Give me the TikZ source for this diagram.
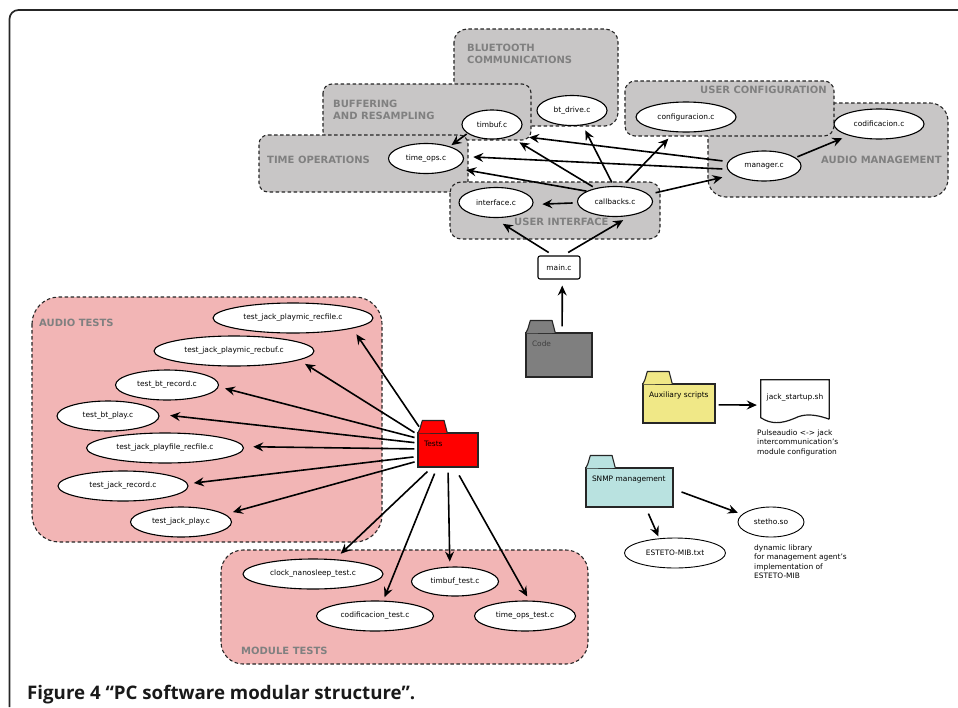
\documentclass[tikz,border=0pt]{standalone}
\usepackage{fontspec}
\setmainfont{DejaVu Sans}
\newfontfamily\captionfont{Open Sans}
\usetikzlibrary{arrows.meta, calc, shapes.geometric}

\definecolor{zonegrey}{HTML}{C8C6C6}
\definecolor{zonepink}{HTML}{F2B5B5}
\definecolor{folderyellow}{HTML}{F0E887}
\definecolor{folderteal}{HTML}{B9E2E0}
\definecolor{foldergrey}{HTML}{7F7F7F}

\tikzset{
	greyzone/.style={draw=black!85, fill=zonegrey, line width=1.1pt, dash pattern=on 3.5pt off 2.5pt},
	pinkzone/.style={draw=black!85, fill=zonepink, line width=1.1pt, dash pattern=on 3.5pt off 2.5pt},
	zonetitle/.style={font=\fontsize{10}{12}\selectfont\bfseries, text=black!50, anchor=west, align=left, inner sep=0pt},
	srcfile/.style={ellipse, draw=black, fill=white, line width=1.1pt, inner sep=0pt, minimum height=30pt, font=\fontsize{7.45}{9}\selectfont},
	plainfile/.style={srcfile, line width=0.9pt},
	folder/.style={draw=black!85, line width=1.1pt, inner xsep=6pt, inner ysep=6pt, text height=7pt, align=left, font=\fontsize{7.45}{9}\selectfont},
	note/.style={font=\fontsize{7.45}{9.5}\selectfont, align=left, anchor=north west, inner sep=0pt},
	conn/.style={-{Stealth[length=10pt, width=9pt, inset=3.5pt]}, line width=1.6pt, black},
	gap/.style 2 args={shorten <=#1pt, shorten >=#2pt}
}

\newcommand{\foldertab}[2]{
	\draw [line width=1.1pt, draw=black!85, fill=#2, line join=round] ($(#1.north west)+(0.6,1)$) -- ++(0,-1) -- ++(1.7,-3.3) -- ++(2.6,-8.7) -- ++(21.7,0) -- ++(3,11.5) -- ++(0,1);
}

\begin{document}
\begin{tikzpicture}[x=1pt, y=-1pt]
	\useasboundingbox (0,0) rectangle (958,707);

	% frame and caption
	\draw [line width=1.7pt, black!85, rounded corners=9pt] (9.5,707) -- (9.5,10) -- (958,10);
	\node (caption) [anchor=base west, inner sep=0pt, text=black!90, font=\captionfont\fontsize{18.7}{20}\selectfont\bfseries] at (27,699) {Figure 4 “PC software modular structure”.};

	% zones
	\draw [greyzone, rounded corners=18pt] (708,103) rectangle (948,197);
	\draw [greyzone, rounded corners=10pt] (625,81) rectangle (834,136);
	\draw [greyzone, rounded corners=13pt] (454,29) rectangle (618,126);
	\draw [greyzone, rounded corners=9pt] (323,84) rectangle (531,140);
	\draw [greyzone, rounded corners=9pt] (259,135) -- (468,135) -- (468,192) -- (259,192) -- cycle;
	\draw [greyzone, rounded corners=11pt] (450,182) rectangle (660,239);
	\draw [pinkzone, rounded corners=27pt] (32,297) rectangle (382,542);
	\draw [pinkzone, rounded corners=22pt] (221,550) rectangle (588,664);

	\node (titlebluetooth) [zonetitle] at (467,54) {BLUETOOTH\\COMMUNICATIONS};
	\node (titlebuffering) [zonetitle] at (333,110) {BUFFERING\\AND RESAMPLING};
	\node (titletime) [zonetitle] at (267,159.5) {TIME OPERATIONS};
	\node (titleinterface) [zonetitle] at (514,222) {USER INTERFACE};
	\node (titleconfig) [zonetitle] at (700,90) {USER CONFIGURATION};
	\node (titleaudio) [zonetitle] at (821,160) {AUDIO MANAGEMENT};
	\node (titleaudiotests) [zonetitle] at (39,323) {AUDIO TESTS};
	\node (titlemodule) [zonetitle] at (241,651) {MODULE TESTS};

	% sources
	\node (btdrive) [srcfile, minimum width=70pt] at (572,110.5) {bt\_drive.c};
	\node (timbuf) [srcfile, minimum width=60pt, minimum height=29pt] at (492,124.5) {timbuf.c};
	\node (timeops) [srcfile, minimum width=75pt] at (426,158.5) {time\_ops.c};
	\node (interface) [srcfile, minimum width=74pt] at (496,202.5) {interface.c};
	\node (callbacks) [srcfile, minimum width=75pt] at (615,201.5) {callbacks.c};
	\node (configuracion) [srcfile, minimum width=100pt] at (686,117) {configuracion.c};
	\node (codificacion) [srcfile, minimum width=90pt] at (879,124) {codificacion.c};
	\node (manager) [srcfile, minimum width=74pt] at (764,166) {manager.c};
	\node (mainc) [draw=black, fill=white, line width=1.1pt, rounded corners=2pt, minimum width=42pt, minimum height=23pt, inner sep=0pt, font=\fontsize{7.45}{9}\selectfont] at (559,267.5) {main.c};

	% tests
	\node (playmicrecfile) [srcfile, minimum width=160pt] at (293,318) {test\_jack\_playmic\_recfile.c};
	\node (playmicrecbuf) [srcfile, minimum width=160pt] at (234,351) {test\_jack\_playmic\_recbuf.c};
	\node (btrecord) [srcfile, minimum width=103pt] at (167,385) {test\_bt\_record.c};
	\node (btplay) [srcfile, minimum width=102pt] at (108,416) {test\_bt\_play.c};
	\node (playfilerecfile) [srcfile, minimum width=157pt] at (165,448) {test\_jack\_playfile\_recfile.c};
	\node (jackrecord) [srcfile, minimum width=130pt] at (123,486) {test\_jack\_record.c};
	\node (jackplay) [srcfile, minimum width=101pt] at (181,522) {test\_jack\_play.c};
	\node (clocktest) [srcfile, minimum width=140pt] at (313,574) {clock\_nanosleep\_test.c};
	\node (timbuftest) [srcfile, minimum width=87pt, minimum height=29pt] at (455,581.5) {timbuf\_test.c};
	\node (codiftest) [srcfile, minimum width=117pt] at (375,616) {codificacion\_test.c};
	\node (timeopstest) [srcfile, minimum width=101pt] at (525,616) {time\_ops\_test.c};

	% folders
	\node (code) [folder, fill=foldergrey, text width=54pt, text depth=25pt, text=black!75] at (559,355) {Code};
	\node (auxscripts) [folder, fill=folderyellow, text width=60pt, text depth=20pt] at (679,403.5) {\mbox{Auxiliary scripts}};
	\node (snmp) [folder, fill=folderteal, text width=75pt, text depth=20pt] at (629.5,487.5) {\mbox{SNMP management}};
	\node (tests) [folder, fill=red, text width=48pt, text depth=15pt] at (448,450) {Tests};
	\foldertab{code}{foldergrey}
	\foldertab{auxscripts}{folderyellow}
	\foldertab{snmp}{folderteal}
	\foldertab{tests}{red}

	% script, library and notes
	\node (jackstartup) [inner sep=0pt, text width=68pt, align=center, text height=19.5pt, text depth=23.5pt, font=\fontsize{7.45}{9}\selectfont] at (795,401.5) {jack\_startup.sh};
	\draw [line width=1.2pt, black!90] ($(jackstartup.south east)+(0,-4)$) -- (jackstartup.north east) -- (jackstartup.north west) -- ($(jackstartup.south west)+(0,-5.5)$)
		.. controls ($(jackstartup.south west)+(10,1)$) and ($(jackstartup.south west)+(20,1)$) .. ($(jackstartup.south west)+(34,-5)$)
		.. controls ($(jackstartup.south west)+(42,-9)$) and ($(jackstartup.south west)+(52,-10)$) .. ($(jackstartup.south east)+(0,-4)$);
	\node (jacknote) [note] at (757,429.5) {Pulseaudio <-> jack\\intercommunication's\\module configuration};
	\node (stetho) [plainfile, minimum width=66pt] at (771,522) {stetho.so};
	\node (esteto) [plainfile, minimum width=101pt] at (675,553) {ESTETO-MIB.txt};
	\node (stethonote) [note] at (754,544.5) {dynamic library\\for management agent's\\implementation of\\ESTETO-MIB};

	% connectors
	\draw [conn, gap={1}{2}] (timbuf.200) -- (timeops.27);
	\draw [conn, gap={5.5}{16}] (manager.173) -- (timbuf.-27);
	\draw [conn, gap={5}{9.5}] (manager.185) -- (timeops.3);
	\draw [conn, gap={2}{7}] (manager.15) -- (codificacion.201);
	\draw [conn, gap={7}{11}] (callbacks.12) -- (manager.196);
	\draw [conn, gap={4.5}{9}] (callbacks.182) -- (interface.-3);
	\draw [conn, gap={5.5}{9}] (callbacks.64) -- (configuracion.233);
	\draw [conn, gap={4}{5.6}] (callbacks.95) -- (btdrive.-54);
	\draw [conn, gap={3}{11}] (callbacks.146) -- (timbuf.-34);
	\draw [conn, gap={0}{10.5}] (callbacks.160) -- (timeops.-18.5);
	\draw [conn, gap={5.5}{11}] (mainc.115) -- (interface.261);
	\draw [conn, gap={5.8}{8.8}] (mainc.71) -- (callbacks.-42);
	\draw [conn, gap={6}{6}] (code.82) -- (mainc.-75);
	\draw [conn, gap={3}{4}] (auxscripts.-2.4) -- (jackstartup.186);
	\draw [conn, gap={8.5}{4.5}] (snmp.-2) -- (stetho.165);
	\draw [conn, gap={6.6}{2}] (snmp.-51) -- (esteto.137);

	\draw [conn, gap={7}{7}] (tests.145) -- (playmicrecfile.-10);
	\draw [conn, gap={3.5}{7}] (tests.153) -- (playmicrecbuf.-8.4);
	\draw [conn, gap={3}{6.5}] (tests.159.5) -- (btrecord.-2.7);
	\draw [conn, gap={3}{11}] (tests.167.4) -- (btplay.2.6);
	\draw [conn, gap={3}{9.5}] (tests.178) -- (playfilerecfile.1.6);
	\draw [conn, gap={4}{6}] (tests.192) -- (jackrecord.2.9);
	\draw [conn, gap={3}{8}] (tests.200.5) -- (jackplay.10.3);
	\draw [conn, gap={5.8}{8}] (tests.227) -- (clocktest.34.4);
	\draw [conn, gap={6.5}{3.6}] (tests.238) -- (codiftest.62.7);
	\draw [conn, gap={5}{5}] (tests.270) -- (timbuftest.109);
	\draw [conn, gap={9}{4.6}] (tests.291) -- (timeopstest.74.4);
\end{tikzpicture}
\end{document}
